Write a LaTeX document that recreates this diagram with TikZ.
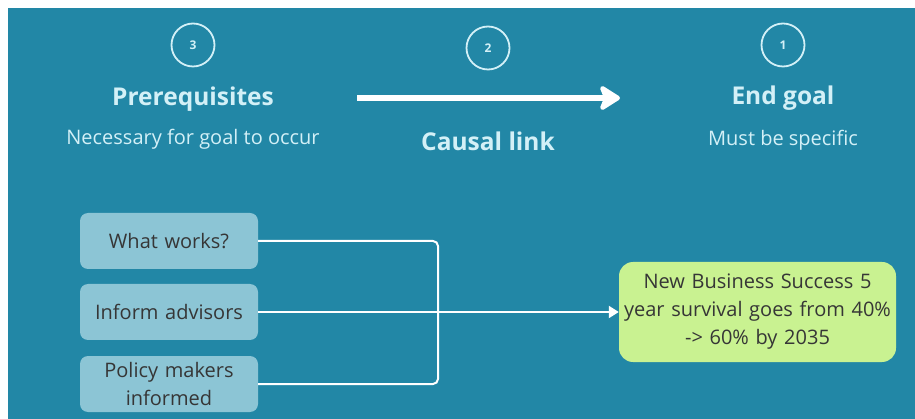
\documentclass[tikz,border=0pt]{standalone}
\usepackage{fontspec}
\setmainfont{Open Sans}
\usepackage{xcolor}
\usetikzlibrary{positioning,calc,arrows.meta}

\definecolor{bgteal}{HTML}{2287A6}
\definecolor{boxblue}{HTML}{8CC5D5}
\definecolor{goalgreen}{HTML}{C9F291}
\definecolor{headtext}{HTML}{D3F0F7}
\definecolor{boxtext}{HTML}{363636}

\tikzset{
    stepnum/.style={circle, draw=headtext, line width=1.8pt, minimum size=43pt, inner sep=0pt,
        text=headtext, font=\bfseries\fontsize{12}{13}\selectfont},
    heading/.style={text=headtext, font=\bfseries\fontsize{24.5}{28}\selectfont},
    subhead/.style={text=headtext, font=\fontsize{20}{24}\selectfont},
    prereq/.style={rectangle, rounded corners=8pt, fill=boxblue, minimum width=178pt, minimum height=56pt,
        text width=172pt, align=center, text=boxtext, font=\fontsize{20}{28}\selectfont, inner sep=0pt},
    goalbox/.style={rectangle, rounded corners=14pt, fill=goalgreen, minimum width=277pt, minimum height=100pt,
        text width=274pt, align=center, text=boxtext, font=\fontsize{20}{28}\selectfont, inner sep=0pt},
    link/.style={draw=white, line width=2pt, rounded corners=5pt}
}

\begin{document}
\begin{tikzpicture}[x=1pt, y=-1pt]
    \useasboundingbox (0,0) rectangle (915,419);
    \fill[bgteal] (8,8) rectangle (915,419);

    % Header
    \node[stepnum] (n3) at (193,45) {3};
    \node[stepnum] (n2) at (488,48) {2};
    \node[stepnum] (n1) at (783,45) {1};
    \node[heading] (prereq) at (193,99) {Prerequisites};
    \node[subhead] (prereqsub) at (193,139) {Necessary for goal to occur};
    \node[heading] (causal) at (488,141) {Causal link};
    \node[heading] (endgoal) at (783,98) {End goal};
    \node[subhead] (endgoalsub) at (783,140) {Must be specific};
    \coordinate (arrstart) at (357,98);
    \coordinate (arrend) at (620,98);
    \draw[white, line width=6pt, -{Stealth[length=24pt, width=30pt, inset=6pt, round]}] (arrstart) -- (arrend);

    % Prerequisites and goal
    \node[prereq] (works) at (169,241) {What works?};
    \node[prereq] (advisors) at (169,312) {Inform advisors};
    \node[prereq] (policy) at (169,384) {Policy makers\\informed};
    \node[goalbox] (goal) at (757.5,312) {New Business Success 5\\year survival goes from 40\%\\-> 60\% by 2035};

    % Links
    \coordinate (merge) at (438,312);
    \draw[link] (works.east) -| (merge);
    \draw[link] (policy.east) -| (merge);
    \draw[link, -{Triangle[length=10pt, width=12pt]}] (advisors.east) -- (goal.west);
\end{tikzpicture}
\end{document}
